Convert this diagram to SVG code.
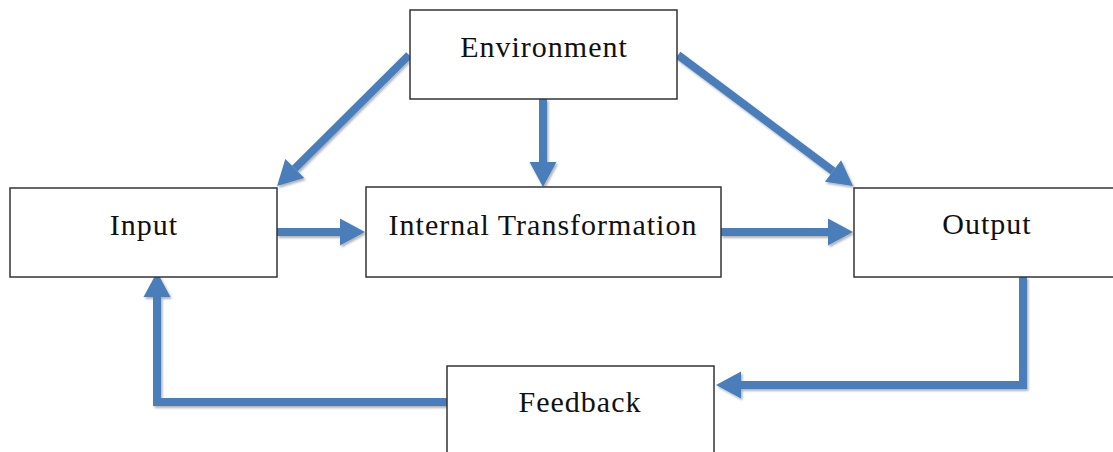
<svg xmlns="http://www.w3.org/2000/svg" width="1113" height="452" viewBox="0 0 1113 452">
  <style>
    .box { fill: #ffffff; stroke: #333333; stroke-width: 1.5; }
    .lbl { font-family: "Liberation Serif", "Times New Roman", serif; font-size: 30px; fill: #111111; text-anchor: middle; letter-spacing: 1px; }
    .conn { fill: none; stroke: #4a7ebb; stroke-width: 8; stroke-linejoin: miter; marker-end: url(#head); }
  </style>
  <defs>
    <marker id="head" markerUnits="userSpaceOnUse" markerWidth="28" markerHeight="28" refX="0" refY="13.5" orient="auto" overflow="visible">
      <path d="M0,0 L25,13.5 L0,27 Z" fill="#4a7ebb"/>
    </marker>
    <filter id="shadow" x="-10%" y="-10%" width="120%" height="120%">
      <feDropShadow dx="1.5" dy="2" stdDeviation="1.2" flood-color="#000000" flood-opacity="0.3"/>
    </filter>
  </defs>
  <rect width="1113" height="452" fill="#ffffff"/>

  <g id="connectors" filter="url(#shadow)">
    <path class="conn" d="M409,55 L294.8,168.5"/>
    <path class="conn" d="M543,99 L543,162"/>
    <path class="conn" d="M678,55 L833,171"/>
    <path class="conn" d="M277,232 L340,232"/>
    <path class="conn" d="M721,232 L828,232"/>
    <path class="conn" d="M1023,277 L1023,385 L741,385"/>
    <path class="conn" d="M447,402 L157,402 L157,297"/>
  </g>

  <g id="environment">
    <rect class="box" x="410" y="10" width="267" height="89"/>
    <text class="lbl" x="544" y="57">Environment</text>
  </g>
  <g id="input">
    <rect class="box" x="10" y="188" width="267" height="89"/>
    <text class="lbl" x="144" y="235">Input</text>
  </g>
  <g id="internal-transformation">
    <rect class="box" x="366" y="187" width="355" height="90"/>
    <text class="lbl" x="543" y="235">Internal Transformation</text>
  </g>
  <g id="output">
    <rect class="box" x="854" y="188" width="270" height="89"/>
    <text class="lbl" x="987" y="234">Output</text>
  </g>
  <g id="feedback">
    <rect class="box" x="447" y="366" width="267" height="100"/>
    <text class="lbl" x="580" y="412">Feedback</text>
  </g>
</svg>
